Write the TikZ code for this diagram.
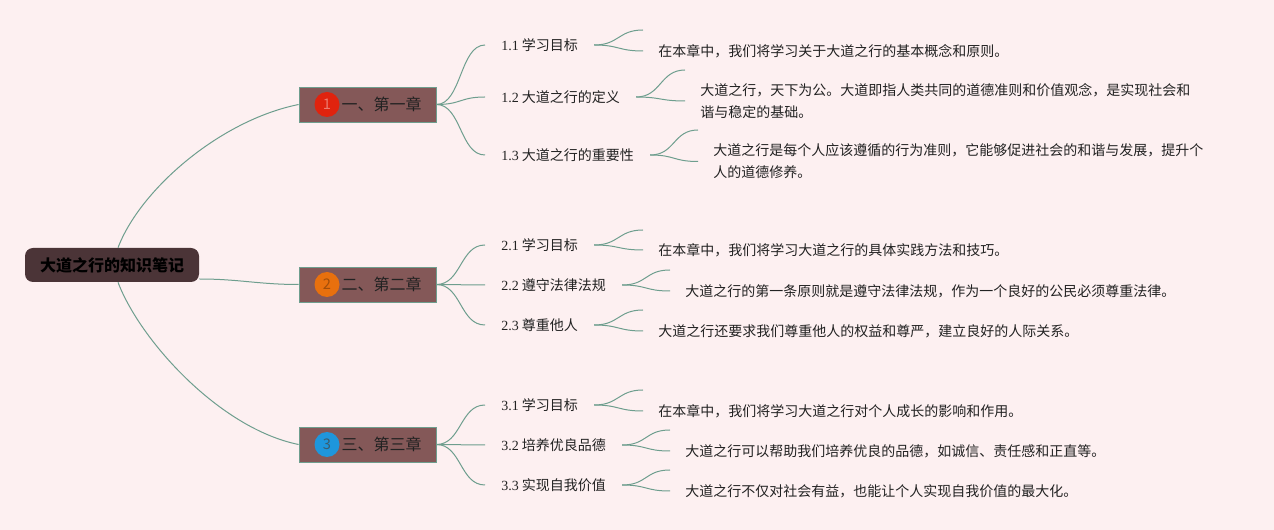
\documentclass[tikz,border=0pt]{standalone}
\usepackage{fontspec}
\setmainfont{Noto Sans CJK SC}
\newfontfamily\latinfont{Liberation Serif}
\definecolor{bgpink}{HTML}{FDF0F1}
\definecolor{linkgreen}{HTML}{6E9E8E}
\definecolor{chapfill}{HTML}{845858}
\definecolor{rootfill}{HTML}{4B3437}
\definecolor{inkdark}{HTML}{222222}
\definecolor{numred}{HTML}{E0230E}
\definecolor{numorange}{HTML}{E8700E}
\definecolor{numblue}{HTML}{1E96DC}

\tikzset{
  rootbox/.style = {draw=none, fill=rootfill, rounded corners=6pt, minimum width=130.5pt,
                    minimum height=25.5pt, font=\fontsize{12pt}{14pt}\selectfont\bfseries, text=black},
  chapbox/.style = {draw=linkgreen, line width=0.6pt, fill=chapfill, minimum width=102.75pt,
                    minimum height=26.25pt, font=\fontsize{12pt}{14pt}\selectfont, text=inkdark},
  numdot/.style  = {circle, minimum size=18.75pt, inner sep=0pt, font=\fontsize{11pt}{12pt}\selectfont},
  topic/.style   = {anchor=west, inner xsep=12pt, inner ysep=0pt, text=inkdark,
                    font=\fontsize{10.5pt}{13pt}\selectfont},
  note/.style    = {anchor=west, inner xsep=11.25pt, inner ysep=0pt, align=left, text=inkdark,
                    font=\fontsize{10.5pt}{16.5pt}\selectfont},
  link/.style    = {draw=linkgreen, line width=0.75pt}
}

\begin{document}
\begin{tikzpicture}[x=0.75pt, y=-0.75pt]
      \fill[bgpink] (0,0) rectangle (1274,530);
      \useasboundingbox (0,0) rectangle (1274,530);

      % Vertices
      \node[rootbox] (root) at (112,265) {大道之行的知识笔记};

      \node[chapbox] (ch1) at (367.5,104.5) {\hspace*{21pt}一、第一章};
      \node[chapbox] (ch2) at (367.5,284.5) {\hspace*{21pt}二、第二章};
      \node[chapbox] (ch3) at (367.5,444.5) {\hspace*{21pt}三、第三章};
      \node[numdot, fill=numred, text=numred!60!white] (n1) at (327,104.5) {1};
      \node[numdot, fill=numorange, text=numorange!70!black] (n2) at (327,284.5) {2};
      \node[numdot, fill=numblue, text=numblue!45!black!60!gray] (n3) at (327,444.5) {3};

      \node[topic] (s11) at (485,45) {{\latinfont 1.1} 学习目标};
      \node[topic] (s12) at (485,97) {{\latinfont 1.2} 大道之行的定义};
      \node[topic] (s13) at (485,155) {{\latinfont 1.3} 大道之行的重要性};
      \node[topic] (s21) at (485,245) {{\latinfont 2.1} 学习目标};
      \node[topic] (s22) at (485,285) {{\latinfont 2.2} 遵守法律法规};
      \node[topic] (s23) at (485,325) {{\latinfont 2.3} 尊重他人};
      \node[topic] (s31) at (485,405) {{\latinfont 3.1} 学习目标};
      \node[topic] (s32) at (485,445) {{\latinfont 3.2} 培养优良品德};
      \node[topic] (s33) at (485,485) {{\latinfont 3.3} 实现自我价值};

      \node[note] (d11) at (643,51) {在本章中，我们将学习关于大道之行的基本概念和原则。};
      \node[note] (d12) at (685,101) {大道之行，天下为公。大道即指人类共同的道德准则和价值观念，是实现社会和\\谐与稳定的基础。};
      \node[note] (d13) at (698,161.5) {大道之行是每个人应该遵循的行为准则，它能够促进社会的和谐与发展，提升个\\人的道德修养。};
      \node[note] (d21) at (643,250) {在本章中，我们将学习大道之行的具体实践方法和技巧。};
      \node[note] (d22) at (670,291) {大道之行的第一条原则就是遵守法律法规，作为一个良好的公民必须尊重法律。};
      \node[note] (d23) at (643,331) {大道之行还要求我们尊重他人的权益和尊严，建立良好的人际关系。};
      \node[note] (d31) at (643,411) {在本章中，我们将学习大道之行对个人成长的影响和作用。};
      \node[note] (d32) at (670,451) {大道之行可以帮助我们培养优良的品德，如诚信、责任感和正直等。};
      \node[note] (d33) at (670,491) {大道之行不仅对社会有益，也能让个人实现自我价值的最大化。};

      % free ends
      \coordinate (u11) at (643,30);
      \coordinate (u12) at (685,70);
      \coordinate (u13) at (698,130);
      \coordinate (u21) at (643,230);
      \coordinate (u22) at (670,270);
      \coordinate (u23) at (643,310);
      \coordinate (u31) at (643,390);
      \coordinate (u32) at (670,430);
      \coordinate (u33) at (670,470);

      % Edges
      \draw[link] ([xshift=4.5pt]root.north) .. controls +(22,-58) and +(-79,16) .. (ch1.west);
      \draw[link] ([yshift=-10.5pt]root.east) .. controls +(40,0) and +(-40,0) .. (ch2.west);
      \draw[link] ([xshift=4.5pt]root.south) .. controls +(22,58) and +(-79,-16) .. (ch3.west);

      \draw[link] (ch1.east) .. controls +(25,0) and +(-25,0) .. (s11.west);
      \draw[link] (ch1.east) .. controls +(25,0) and +(-25,0) .. (s12.west);
      \draw[link] (ch1.east) .. controls +(25,0) and +(-25,0) .. (s13.west);
      \draw[link] (ch2.east) .. controls +(25,0) and +(-25,0) .. (s21.west);
      \draw[link] (ch2.east) .. controls +(25,0) and +(-25,0) .. (s22.west);
      \draw[link] (ch2.east) .. controls +(25,0) and +(-25,0) .. (s23.west);
      \draw[link] (ch3.east) .. controls +(25,0) and +(-25,0) .. (s31.west);
      \draw[link] (ch3.east) .. controls +(25,0) and +(-25,0) .. (s32.west);
      \draw[link] (ch3.east) .. controls +(25,0) and +(-25,0) .. (s33.west);

      \draw[link] (s11.east) .. controls +(25,0) and +(-25,0) .. (u11);
      \draw[link] (s11.east) .. controls +(25,0) and +(-25,0) .. (d11.west);
      \draw[link] (s12.east) .. controls +(25,0) and +(-25,0) .. (u12);
      \draw[link] (s12.east) .. controls +(25,0) and +(-25,0) .. (d12.west);
      \draw[link] (s13.east) .. controls +(25,0) and +(-25,0) .. (u13);
      \draw[link] (s13.east) .. controls +(25,0) and +(-25,0) .. (d13.west);
      \draw[link] (s21.east) .. controls +(25,0) and +(-25,0) .. (u21);
      \draw[link] (s21.east) .. controls +(25,0) and +(-25,0) .. (d21.west);
      \draw[link] (s22.east) .. controls +(25,0) and +(-25,0) .. (u22);
      \draw[link] (s22.east) .. controls +(25,0) and +(-25,0) .. (d22.west);
      \draw[link] (s23.east) .. controls +(25,0) and +(-25,0) .. (u23);
      \draw[link] (s23.east) .. controls +(25,0) and +(-25,0) .. (d23.west);
      \draw[link] (s31.east) .. controls +(25,0) and +(-25,0) .. (u31);
      \draw[link] (s31.east) .. controls +(25,0) and +(-25,0) .. (d31.west);
      \draw[link] (s32.east) .. controls +(25,0) and +(-25,0) .. (u32);
      \draw[link] (s32.east) .. controls +(25,0) and +(-25,0) .. (d32.west);
      \draw[link] (s33.east) .. controls +(25,0) and +(-25,0) .. (u33);
      \draw[link] (s33.east) .. controls +(25,0) and +(-25,0) .. (d33.west);
\end{tikzpicture}
\end{document}
